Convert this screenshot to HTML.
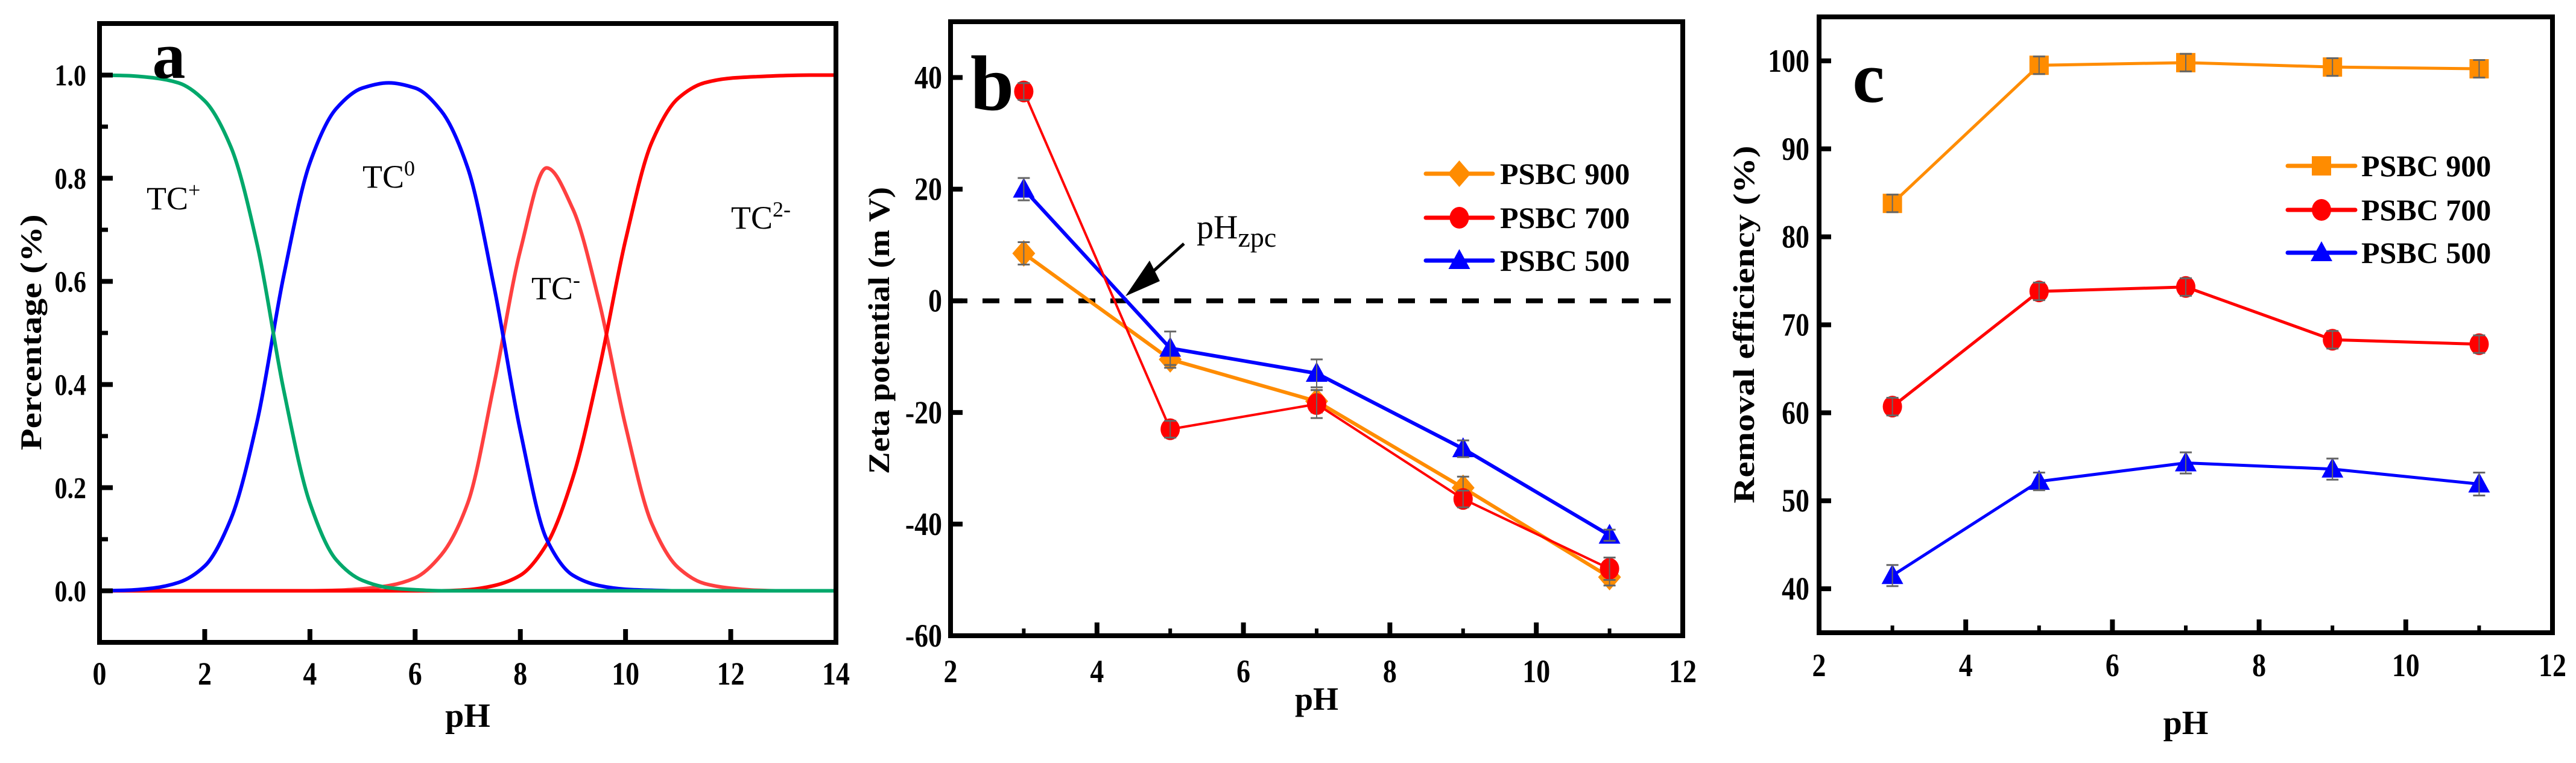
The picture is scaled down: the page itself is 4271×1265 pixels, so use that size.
<!DOCTYPE html>
<html><head><meta charset="utf-8"><style>
html,body{margin:0;padding:0;background:#fff;}
svg{display:block;font-family:"Liberation Serif",serif;}
</style></head><body>
<svg id="fig" width="4271" height="1265" viewBox="0 0 4271 1265" xmlns="http://www.w3.org/2000/svg"></svg>
<script>
// ---------- Panel a data ----------
const phA = [0,0.5,1,1.5,2,2.5,3,3.5,4,4.5,5,5.5,6,6.5,7,7.5,8,8.5,9,9.5,10,10.5,11,11.5,12,12.5,13,13.5,14];
const tcPlus  = [1,0.999,0.995,0.985,0.95,0.86,0.67,0.39,0.17,0.06,0.02,0.006,0.002,0,0,0,0,0,0,0,0,0,0,0,0,0,0,0,0];
const tcZero  = [0,0.001,0.005,0.016,0.048,0.14,0.33,0.61,0.83,0.935,0.975,0.985,0.975,0.93,0.82,0.59,0.31,0.1,0.03,0.01,0.003,0.001,0,0,0,0,0,0,0];
const tcMinus = [0,0,0,0,0,0,0,0,0,0.001,0.004,0.01,0.025,0.07,0.17,0.4,0.66,0.82,0.74,0.56,0.32,0.13,0.045,0.014,0.005,0.001,0,0,0];
const tc2Minus= [0,0,0,0,0,0,0,0,0,0,0,0,0,0,0.002,0.01,0.03,0.09,0.22,0.43,0.68,0.87,0.955,0.985,0.994,0.997,0.999,1,1];
const aXTicks = [0,2,4,6,8,10,12,14];
const aYTicks = [0,0.2,0.4,0.6,0.8,1.0];
const aYTickLabels = ["0.0","0.2","0.4","0.6","0.8","1.0"];
// ---------- Panel b data ----------
const phB = [3,5,7,9,11];
const zeta900 = [8.5,-10.5,-18,-33.5,-49.5];
const zeta700 = [37.5,-23,-18.5,-35.5,-48];
const zeta500 = [20,-8.5,-13,-26.5,-42];
const zetaErr900 = [2,1.5,2,2,1.5];
const zetaErr700 = [1.5,1.5,2.5,1.5,2];
const zetaErr500 = [2,3,2.5,1.5,1];
const bXTicks = [2,4,6,8,10,12];
const bYTicks = [-60,-40,-20,0,20,40];
// ---------- Panel c data ----------
const phC = [3,5,7,9,11];
const rem900 = [83.8,99.5,99.8,99.3,99.1];
const rem700 = [60.7,73.8,74.3,68.3,67.8];
const rem500 = [41.5,52.2,54.3,53.6,51.9];
const cXTicks = [2,4,6,8,10,12];
const cYTicks = [40,50,60,70,80,90,100];

const NS="http://www.w3.org/2000/svg";
const svg=document.getElementById('fig');
function el(tag,attrs,parent){const e=document.createElementNS(NS,tag);for(const k in attrs)e.setAttribute(k,attrs[k]);(parent||svg).appendChild(e);return e;}
function txt(s,x,y,size,opts,parent){opts=opts||{};const t=el('text',{x:x,y:y,'font-size':size,'font-weight':opts.weight||'bold','text-anchor':opts.anchor||'middle',fill:'#000'},parent);
 if(opts.tl){t.setAttribute('textLength',opts.tl);t.setAttribute('lengthAdjust','spacingAndGlyphs');}
 if(opts.tr)t.setAttribute('transform',opts.tr);t.textContent=s;return t;}
function scale(d0,d1,p0,p1){return v=>p0+(v-d0)/(d1-d0)*(p1-p0);}
function frame(L,T,R,B,g){el('rect',{x:L,y:T,width:R-L,height:B-T,fill:'none',stroke:'#000','stroke-width':8},g);}

// ================= Panel a =================
(function(){
 const g=el('g',{});
 
 
 const L=165,R=1386,T=39,B=1065;
 const x=scale(0,14,L,R), y=scale(-0.1,1.1,B,T);
 function curve(arr,color,name){
  const n=phA.length, xs=phA.map(x), ys=arr.map(y);
  const d=[],m=[];
  for(let i=0;i<n-1;i++)d.push((ys[i+1]-ys[i])/(xs[i+1]-xs[i]));
  m[0]=d[0];m[n-1]=d[n-2];
  for(let i=1;i<n-1;i++){ if(d[i-1]*d[i]<=0)m[i]=0; else { m[i]=2/(1/d[i-1]+1/d[i]); } }
  let p='M'+xs[0]+','+ys[0];
  for(let i=0;i<n-1;i++){const h=xs[i+1]-xs[i];
   p+=' C'+(xs[i]+h/3)+','+(ys[i]+m[i]*h/3)+' '+(xs[i+1]-h/3)+','+(ys[i+1]-m[i+1]*h/3)+' '+xs[i+1]+','+ys[i+1];}
  const pth=el('path',{d:p,fill:'none',stroke:color,'stroke-width':6},g);
  
  
 }
 curve(tcMinus,'#ff4040','tc-minus-curve');
 curve(tc2Minus,'#ff0000','tc2-minus-curve');
 curve(tcZero,'#0000ff','tc0-curve');
 curve(tcPlus,'#00a86b','tc-plus-curve');
 frame(L,T,R,B,g);
 aXTicks.forEach(v=>{el('line',{x1:x(v),x2:x(v),y1:B,y2:B-22,stroke:'#000','stroke-width':8},g);
  const t=txt(String(v),0,0,54,{tr:'translate('+x(v)+',1135) scale(0.85,1)'},g);
  
  });
 aYTicks.forEach((v,i)=>{el('line',{x1:L,x2:L+22,y1:y(v),y2:y(v),stroke:'#000','stroke-width':8},g);
  el('line',{x1:L,x2:L+14,y1:y(v+0.1),y2:y(v+0.1),stroke:'#000','stroke-width':7},g);
  const t=txt(aYTickLabels[i],0,0,50,{anchor:'end',tr:'translate(143,'+(y(v)+17)+') scale(0.84,1)'},g);
  
  });
 const xt=txt('pH',x(7),1205,56,{},g);
 
 
 const yt=txt('Percentage (%)',0,0,50,{tl:391,tr:'translate(68,551) rotate(-90)'},g);
 
 
 const pl=txt('a',280,129,110,{},g);
 
 
 const labs=[['TC','+',243,347],['TC','0',601,311],['TC','-',881,496],['TC','2-',1212,379]];
 labs.forEach(l=>{const t=el('text',{x:l[2],y:l[3],'font-size':54,'font-weight':'normal',fill:'#000'},g);
  
  
  t.appendChild(document.createTextNode(l[0]));
  const s=el('tspan',{dy:-20,'font-size':36},t);s.textContent=l[1];});
})();

function marker(type,cx,cy,color,g){
 if(type==='diamond')return el('polygon',{points:(cx)+','+(cy-22)+' '+(cx+19)+','+cy+' '+(cx)+','+(cy+22)+' '+(cx-19)+','+cy,fill:color},g);
 if(type==='circle')return el('ellipse',{cx:cx,cy:cy,rx:16,ry:18,fill:color},g);
 if(type==='triangle')return el('polygon',{points:cx+','+(cy-19)+' '+(cx+18)+','+(cy+14)+' '+(cx-18)+','+(cy+14),fill:color},g);
 if(type==='square')return el('rect',{x:cx-16,y:cy-16,width:32,height:32,fill:color},g);
}
function series(xs,ys,errs,xf,yf,color,w,type,name,g){
 const pts=xs.map((v,i)=>xf(v)+','+yf(ys[i])).join(' ');
 const pl=el('polyline',{points:pts,fill:'none',stroke:color,'stroke-width':w},g);
 
 
 xs.forEach((v,i)=>{const m=marker(type,xf(v),yf(ys[i]),color,g);
  
  
  if(errs){const e=errs[i];const cx=xf(v);
   el('line',{x1:cx,x2:cx,y1:yf(ys[i]+e),y2:yf(ys[i]-e),stroke:'#666','stroke-width':2},g);
   el('line',{x1:cx-10,x2:cx+10,y1:yf(ys[i]+e),y2:yf(ys[i]+e),stroke:'#666','stroke-width':3},g);
   el('line',{x1:cx-10,x2:cx+10,y1:yf(ys[i]-e),y2:yf(ys[i]-e),stroke:'#666','stroke-width':3},g);}
 });
}
function legend(items,lx1,lx2,tx,rows,g){
 items.forEach((it,i)=>{const gg=el('g',{},g);
  
  
  el('line',{x1:lx1,x2:lx2,y1:rows[i],y2:rows[i],stroke:it[1],'stroke-width':7,'stroke-linecap':'round'},gg);
  marker(it[2],(lx1+lx2)/2,rows[i],it[1],gg);
  txt(it[0],tx,rows[i]+17,50,{anchor:'start'},gg);});
}

// ================= Panel b =================
(function(){
 const g=el('g',{});
 
 
 const L=1576,R=2790,T=36,B=1054;
 const x=scale(2,12,L,R), y=scale(-60,50,B,T);
 el('line',{x1:L,x2:R,y1:y(0),y2:y(0),stroke:'#000','stroke-width':8,'stroke-dasharray':'28,25'},g);
 series(phB,zeta900,zetaErr900,x,y,'#ff8c00',6,'diamond','psbc900',g);
 series(phB,zeta500,zetaErr500,x,y,'#0000ff',6,'triangle','psbc500',g);
 series(phB,zeta700,zetaErr700,x,y,'#ff0000',4,'circle','psbc700',g);
 frame(L,T,R,B,g);
 bXTicks.forEach(v=>{el('line',{x1:x(v),x2:x(v),y1:B,y2:B-22,stroke:'#000','stroke-width':8},g);
  if(v<12)el('line',{x1:x(v+1),x2:x(v+1),y1:B,y2:B-12,stroke:'#000','stroke-width':6},g);
  const t=txt(String(v),0,0,54,{tr:'translate('+x(v)+',1131) scale(0.85,1)'},g);
  
  });
 bYTicks.forEach(v=>{el('line',{x1:L,x2:L+20,y1:y(v),y2:y(v),stroke:'#000','stroke-width':8},g);
  const t=txt(String(v),0,0,54,{anchor:'end',tr:'translate('+(L-14)+','+(y(v)+18)+') scale(0.85,1)'},g);
  
  });
 const xt=txt('pH',x(7),1177,54,{},g);
 
 
 const yt=txt('Zeta potential (m V)',0,0,50,{tl:476,tr:'translate(1474,548) rotate(-90)'},g);
 
 
 const pl=txt('b',1645,182,130,{},g);
 
 
 const ar=el('g',{},g);
 
 
 el('line',{x1:1963,y1:404,x2:1905,y2:456,stroke:'#000','stroke-width':5},ar);
 el('polygon',{points:'1866,491 1906,432 1923,466',fill:'#000'},ar);
 const zt=el('text',{x:1984,y:395,'font-size':56,'font-weight':'normal',fill:'#000'},g);
 
 
 zt.appendChild(document.createTextNode('pH'));
 const sub=el('tspan',{dy:14,'font-size':46},zt);sub.textContent='zpc';
 legend([['PSBC 900','#ff8c00','diamond'],['PSBC 700','#ff0000','circle'],['PSBC 500','#0000ff','triangle']],2364,2475,2487,[288,361,432],g);
})();

// ================= Panel c =================
(function(){
 const g=el('g',{});
 
 
 const L=3016,R=4232,T=28,B=1049;
 const x=scale(2,12,L,R), y=scale(35,105,B,T);
 const err=[1,1,1,1,1];
 series(phC,rem900,err,x,y,'#ff8c00',5,'square','psbc900',g);
 series(phC,rem700,err,x,y,'#ff0000',5,'circle','psbc700',g);
 series(phC,rem500,[1.2,1,1.2,1.2,1.3],x,y,'#0000ff',5,'triangle','psbc500',g);
 frame(L,T,R,B,g);
 cXTicks.forEach(v=>{el('line',{x1:x(v),x2:x(v),y1:B,y2:B-22,stroke:'#000','stroke-width':8},g);
  if(v<12)el('line',{x1:x(v+1),x2:x(v+1),y1:B,y2:B-12,stroke:'#000','stroke-width':6},g);
  const t=txt(String(v),0,0,54,{tr:'translate('+x(v)+',1121) scale(0.85,1)'},g);
  
  });
 cYTicks.forEach(v=>{el('line',{x1:L,x2:L+20,y1:y(v),y2:y(v),stroke:'#000','stroke-width':8},g);
  const t=txt(String(v),0,0,54,{anchor:'end',tr:'translate('+(L-16)+','+(y(v)+18)+') scale(0.85,1)'},g);
  
  });
 const xt=txt('pH',x(7),1217,56,{},g);
 
 
 const yt=txt('Removal efficiency (%)',0,0,50,{tl:593,tr:'translate(2908,538) rotate(-90)'},g);
 
 
 const pl=txt('c',3098,169,120,{},g);
 
 
 legend([['PSBC 900','#ff8c00','square'],['PSBC 700','#ff0000','circle'],['PSBC 500','#0000ff','triangle']],3793,3905,3915,[275,348,419],g);
})();
</script>
</body></html>
